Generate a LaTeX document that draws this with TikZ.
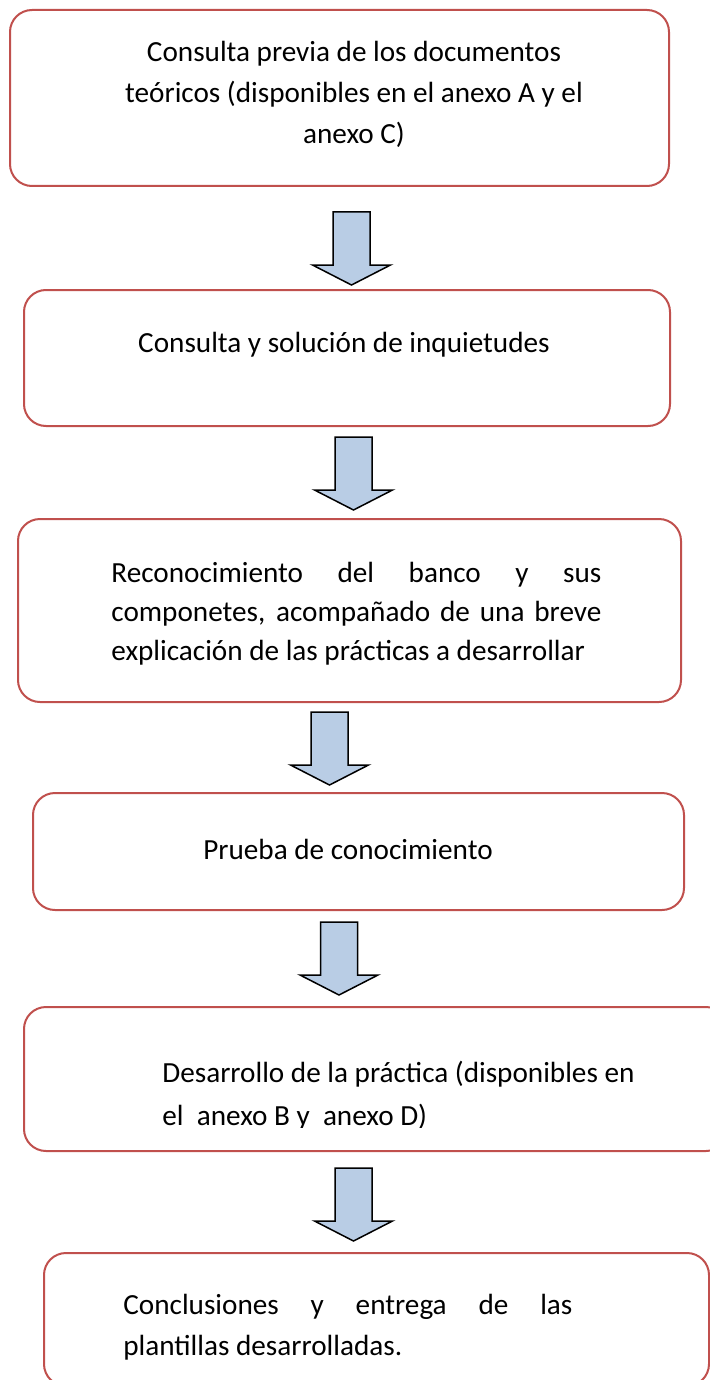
\documentclass[tikz,border=0pt]{standalone}
\usepackage{fontspec}
\setmainfont{Carlito}
\definecolor{rojocaja}{RGB}{192,80,77}
\definecolor{azulflecha}{RGB}{185,205,229}

\begin{document}
\begin{tikzpicture}[x=0.5pt, y=-0.5pt, font=\fontsize{14.6}{20.5}\selectfont,
    caja/.style={draw=rojocaja, line width=1pt, rounded corners=11pt, inner sep=0pt},
    texto/.style={inner sep=0pt, align=center},
    flecha/.pic={\draw[fill=azulflecha, line width=0.75pt] (-18.5,0) -- (18.5,0) -- (18.5,53)
        -- (39,53) -- (0,73) -- (-39,53) -- (-18.5,53) -- cycle;}]
    \useasboundingbox (0,0) rectangle (710,1380);

    \node[caja, minimum width=329.5pt, minimum height=88pt] (c1) at (339.5,98) {};
    \node[caja, minimum width=323pt, minimum height=68pt] (c2) at (347,358) {};
    \node[caja, minimum width=331.5pt, minimum height=91.5pt] (c3) at (349.5,610.5) {};
    \node[caja, minimum width=325.5pt, minimum height=58.5pt] (c4) at (358.5,851.5) {};
    \node[caja, minimum width=352pt, minimum height=72pt] (c5) at (376,1079) {};
    \node[caja, minimum width=332.5pt, minimum height=66.5pt] (c6) at (376.5,1319.5) {};

    \node[texto] (t1) at (354,94) {Consulta previa de los documentos\\teóricos (disponibles en el anexo A y el\\anexo C)};
    \node[texto] (t2) at (344,345) {Consulta y solución de inquietudes};
    \node[texto, anchor=west, text width=245pt, align=justify, font=\fontsize{14.6}{19.5}\selectfont] (t3) at (111,614)
        {Reconocimiento del banco y sus\linebreak componetes, acompañado de una breve\linebreak explicación de las prácticas a desarrollar};
    \node[texto] (t4) at (348,849) {Prueba de conocimiento};
    \begin{scope}
        \clip (0,0) rectangle (710,1127);
        \node[texto, anchor=west, align=left, font=\fontsize{14.6}{21.5}\selectfont] (t5) at (162,1095.5)
            {Desarrollo de la práctica (disponibles en\\el\ \ anexo B y\ \ anexo D)};
    \end{scope}
    \node[texto, anchor=west, text width=224.5pt, align=justify] (t6) at (123,1327)
        {Conclusiones y entrega de las\linebreak plantillas desarrolladas.};

    \pic at (351.5,212) {flecha};
    \pic at (353.5,437) {flecha};
    \pic at (329.5,712) {flecha};
    \pic at (339,922) {flecha};
    \pic at (353.5,1168) {flecha};
\end{tikzpicture}
\end{document}
